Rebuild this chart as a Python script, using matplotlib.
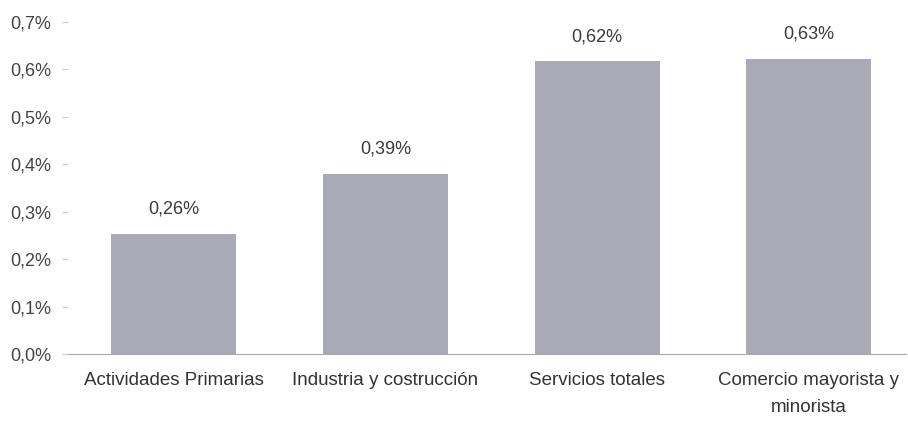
import matplotlib
matplotlib.use("Agg")
import matplotlib.pyplot as plt

categories = ["Actividades Primarias", "Industria y costrucción", "Servicios totales",
              "Comercio mayorista y\nminorista"]
values = [0.253, 0.38, 0.617, 0.623]
value_labels = ["0,26%", "0,39%", "0,62%", "0,63%"]
yticks = [0.0, 0.1, 0.2, 0.3, 0.4, 0.5, 0.6, 0.7]
ytick_labels = ["0,0%", "0,1%", "0,2%", "0,3%", "0,4%", "0,5%", "0,6%", "0,7%"]

plt.rcParams['font.family'] = ['Liberation Sans', 'DejaVu Sans']

fig = plt.figure(figsize=(9.08, 4.23), dpi=100)
ax = fig.add_axes([0.075, 0.163, 0.923, 0.785])

x = range(len(categories))
bars = ax.bar(x, values, width=0.59, color="#a9aab5")
for b, lab in zip(bars, value_labels):
    ax.text(b.get_x() + b.get_width() / 2, b.get_height() + 0.052, lab,
            ha="center", va="center", fontsize=13, color="#3a3a3a")

ax.set_ylim(0, 0.7)
ax.set_xlim(-0.5, 3.46)
ax.set_yticks(yticks)
ax.set_yticklabels(ytick_labels, fontsize=13, color="#444444")
ax.set_xticks(list(x))
ax.set_xticklabels(categories, fontsize=13.5, color="#333333", linespacing=1.75)
ax.tick_params(axis="x", length=0, pad=13)
ax.tick_params(axis="y", length=4, color="#cccccc", pad=8)
for s in ["top", "right", "left"]:
    ax.spines[s].set_visible(False)
ax.spines["bottom"].set_color("#aaaaaa")

fig.savefig("out.png", dpi=100)
